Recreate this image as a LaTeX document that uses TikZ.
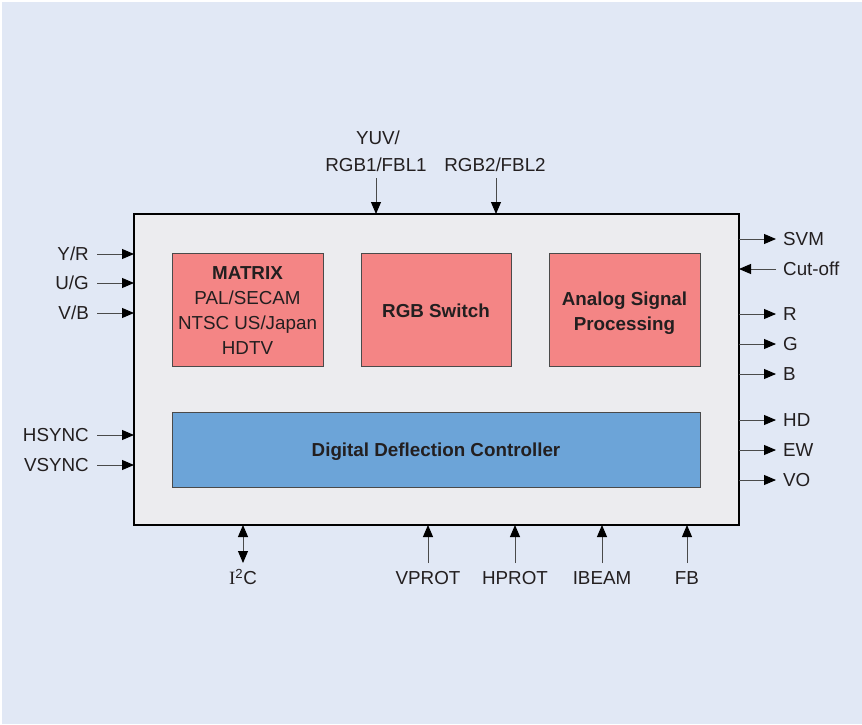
\documentclass[tikz,border=0pt]{standalone}
\usepackage{fontspec}
\setmainfont{Liberation Sans}
\newfontfamily\serifI{Liberation Serif}
\usetikzlibrary{arrows.meta}
\definecolor{bgblue}{HTML}{E1E8F5}
\definecolor{chipgray}{HTML}{ECECEF}
\definecolor{redfill}{HTML}{F48585}
\definecolor{bluefill}{HTML}{6CA4D8}
\definecolor{txt}{HTML}{231F20}
\definecolor{wire}{HTML}{4A4A4A}
\tikzset{
  lbl/.style={inner sep=0pt, text height=13.4pt, text depth=0pt, text=txt},
  chip/.style={draw=black, line width=2pt, fill=chipgray, inner sep=0pt, outer sep=0pt, anchor=north west},
  redbox/.style={draw=wire, line width=0.8pt, fill=redfill, inner sep=0pt, outer sep=0pt, anchor=north west, align=center, text=txt},
  bluebox/.style={draw=wire, line width=0.8pt, fill=bluefill, inner sep=0pt, outer sep=0pt, anchor=north west, align=center, text=txt},
  boxtext/.style={inner sep=0pt, align=center, text=txt},
  arr/.style={draw=wire, line width=0.9pt, -{Triangle[length=12pt,width=10pt,color=black]}},
  dblarr/.style={draw=wire, line width=0.9pt, {Triangle[length=12pt,width=10pt,color=black]}-{Triangle[length=12pt,width=10pt,color=black]}}
}
\begin{document}
\begin{tikzpicture}[x=1pt,y=-1pt,font=\fontsize{18.8}{25}\selectfont]
\useasboundingbox (0,0) rectangle (862,724);
\fill[white] (0,0) rectangle (862,724);
\fill[bgblue] (2,2) rectangle (862,724);

% main chip
\node[chip, minimum width=605pt, minimum height=311pt] (main) at (134,214) {};

% inner boxes
\node[redbox, minimum width=151pt, minimum height=113pt] (matrix) at (172,253) {};
\node[boxtext] (matrixtxt) at ([yshift=-1pt]matrix.center)
  {\textbf{MATRIX}\\PAL/SECAM\\NTSC US/Japan\\HDTV};
\node[redbox, minimum width=150pt, minimum height=113pt] (rgbsw) at (361,253) {};
\node[boxtext] (rgbswtxt) at ([yshift=-1.5pt]rgbsw.center) {\textbf{RGB Switch}};
\node[redbox, minimum width=151pt, minimum height=113pt] (asp) at (549,253) {};
\node[boxtext] (asptxt) at ([yshift=-4pt]asp.center)
  {\textbf{Analog Signal}\\\textbf{Processing}};
\node[bluebox, minimum width=528pt, minimum height=75pt] (ddc) at (172,412) {};
\node[boxtext] (ddctxt) at ([yshift=-2pt]ddc.center) {\textbf{Digital Deflection Controller}};

% left inputs
\foreach \nm/\txt/\y in {yr/Y\slash R/254, ug/U\slash G/283, vb/V\slash B/313, hs/HSYNC/435, vs/VSYNC/465}{
  \node[lbl, anchor=east] (\nm) at (89,\y) {\txt};
  \coordinate (\nm-a) at (97,\y);
  \draw[arr] (\nm-a) -- (\nm-a -| main.west);
}

% right outputs
\foreach \nm/\txt/\y in {svm/SVM/239, r/R/314, g/G/344, b/B/374, hd/HD/420, ew/EW/450, vo/VO/480}{
  \node[lbl, anchor=west] (\nm) at (783,\y) {\txt};
  \coordinate (\nm-a) at (776,\y);
  \draw[arr] (\nm-a -| main.east) -- (\nm-a);
}
% cut-off input
\node[lbl, anchor=west] (cut) at (783,269) {Cut-off};
\coordinate (cut-a) at (776,269);
\draw[arr] (cut-a) -- (cut-a -| main.east);

% top inputs
\node[lbl, anchor=center] (yuv1) at (378,138) {YUV/};
\node[lbl, anchor=center] (yuv2) at (376,165) {RGB1/FBL1};
\node[lbl, anchor=center] (rgb2) at (495,165) {RGB2/FBL2};
\coordinate (yuv-a) at (376,178);
\coordinate (rgb2-a) at (496,178);
\draw[arr] (yuv-a) -- (yuv-a |- main.north);
\draw[arr] (rgb2-a) -- (rgb2-a |- main.north);

% bottom
\node[lbl, anchor=center] (i2c) at (243,578) {{\serifI I}\textsuperscript{2}C};
\coordinate (i2c-a) at (243,563);
\draw[dblarr] (i2c-a |- main.south) -- (i2c-a);
\foreach \nm/\txt/\x in {vprot/VPROT/428, hprot/HPROT/515, ibeam/IBEAM/602, fb/FB/687}{
  \node[lbl, anchor=center] (\nm) at (\x,578) {\txt};
  \coordinate (\nm-a) at (\x,563);
  \draw[arr] (\nm-a) -- (\nm-a |- main.south);
}
\end{tikzpicture}
\end{document}
